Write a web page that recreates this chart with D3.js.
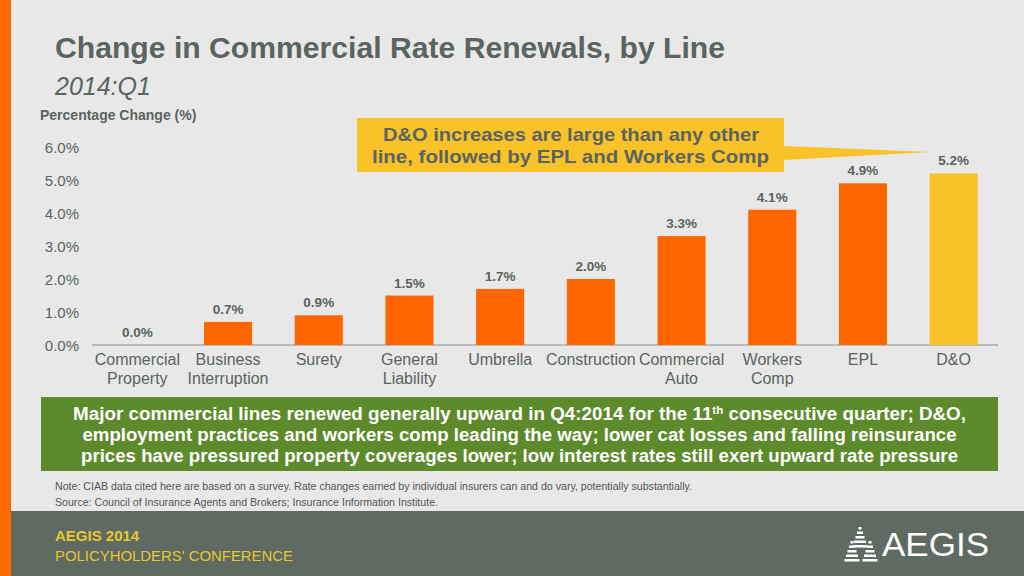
<!DOCTYPE html>
<html><head><meta charset="utf-8">
<script src="https://cdn.jsdelivr.net/npm/d3@7"></script>
<style>
html,body{margin:0;padding:0;background:#e8e8e8;}
svg{display:block;font-family:"Liberation Sans",Arial,sans-serif;}
</style></head>
<body><svg id="c" width="1024" height="576"></svg>
<script>
const categories = [["Commercial","Property"],["Business","Interruption"],["Surety"],["General","Liability"],["Umbrella"],["Construction"],["Commercial","Auto"],["Workers","Comp"],["EPL"],["D&O"]];
const values = [0.0, 0.7, 0.9, 1.5, 1.7, 2.0, 3.3, 4.1, 4.9, 5.2];
const highlight = [false,false,false,false,false,false,false,false,false,true];
const yTicks = [0,1,2,3,4,5,6];
const noteLines = ["Major commercial lines renewed generally upward in Q4:2014 for the 11|th|  consecutive quarter; D&O,",
 "employment practices and workers comp leading the way; lower cat losses and falling reinsurance",
 "prices have pressured property coverages lower; low interest rates still exert upward rate pressure"];
const noteWidths = [893, 874, 877];

const svg = d3.select("#c");
const textCol = "#5a6460";
svg.append("rect").attr("width",1024).attr("height",576).attr("fill","#e8e8e8");
svg.append("rect").attr("x",0).attr("y",0).attr("width",11).attr("height",576).attr("fill","#ff6a00");

svg.append("text").attr("x",55).attr("y",58).attr("font-size",29).attr("font-weight","bold").attr("fill",textCol)
  .attr("textLength",670).attr("lengthAdjust","spacingAndGlyphs").text("Change in Commercial Rate Renewals, by Line");
svg.append("text").attr("x",55).attr("y",95).attr("font-size",25).attr("font-style","italic").attr("fill",textCol).text("2014:Q1");
svg.append("text").attr("x",40).attr("y",120).attr("font-size",14).attr("font-weight","bold").attr("fill",textCol).text("Percentage Change (%)");

const x = d3.scaleBand().domain(d3.range(categories.length)).range([92,999]).paddingInner(0.47).paddingOuter(0.235);
const y = d3.scaleLinear().domain([0,6]).range([345,147]);

const yAxis = svg.append("g").attr("transform","translate(79,0)")
  .call(d3.axisLeft(y).tickValues(yTicks).tickFormat(d=>d.toFixed(1)+"%").tickSize(0).tickPadding(0));
yAxis.select(".domain").remove();
yAxis.selectAll("text").attr("font-size",15).attr("fill",textCol).attr("font-family","Liberation Sans, Arial, sans-serif").attr("dy","0.35em");

svg.append("line").attr("x1",92).attr("x2",998).attr("y1",y(0)).attr("y2",y(0)).attr("stroke","#8a8f8c").attr("stroke-width",1);

svg.selectAll("rect.bar").data(values).join("rect").attr("class","bar")
  .attr("x",(d,i)=>x(i)).attr("width",x.bandwidth())
  .attr("y",d=>y(d)).attr("height",d=>y(0)-y(d))
  .attr("fill",(d,i)=>highlight[i]?"#f9c228":"#ff6600");

svg.selectAll("text.val").data(values).join("text").attr("class","val")
  .attr("x",(d,i)=>x(i)+x.bandwidth()/2).attr("y",d=>y(d)-8)
  .attr("text-anchor","middle").attr("font-size",13.5).attr("font-weight","bold").attr("fill",textCol)
  .text(d=>d.toFixed(1)+"%");

const cat = svg.selectAll("text.cat").data(categories).join("text").attr("class","cat")
  .attr("x",(d,i)=>x(i)+x.bandwidth()/2).attr("y",365)
  .attr("text-anchor","middle").attr("font-size",16).attr("fill",textCol);
cat.each(function(d,i){
  const t=d3.select(this);
  d.forEach((l,j)=>t.append("tspan").attr("x",x(i)+x.bandwidth()/2).attr("dy",j===0?0:19).text(l));
});

// callout
svg.append("path").attr("d","M357,118 L784,118 L784,146 L930,152 L784,160 L784,172 L357,172 Z").attr("fill","#f9c228");
svg.append("text").attr("x",383).attr("y",141).attr("font-size",19).attr("font-weight","bold").attr("fill",textCol)
  .attr("textLength",376).attr("lengthAdjust","spacingAndGlyphs").text("D&O increases are large than any other");
svg.append("text").attr("x",372).attr("y",163).attr("font-size",19).attr("font-weight","bold").attr("fill",textCol)
  .attr("textLength",397).attr("lengthAdjust","spacingAndGlyphs").text("line, followed by EPL and Workers Comp");

// green box
svg.append("rect").attr("x",41).attr("y",397).attr("width",957).attr("height",74).attr("fill","#5d8a2b");
noteLines.forEach((l,i)=>{
  const t = svg.append("text").attr("x",519.5).attr("y",420+i*21).attr("text-anchor","middle").attr("font-size",18).attr("font-weight","bold").attr("fill","#ffffff")
    .attr("textLength",noteWidths[i]).attr("lengthAdjust","spacingAndGlyphs");
  const parts = l.split("|");
  parts.forEach((p,k)=>{
    if(k===1) t.append("tspan").attr("font-size",11).attr("dy",-6).text(p);
    else if(k===2) t.append("tspan").attr("dy",6).text(p);
    else t.append("tspan").text(p);
  });
});

svg.append("text").attr("x",55).attr("y",490).attr("font-size",10.5).attr("fill","#555")
  .attr("textLength",637).attr("lengthAdjust","spacingAndGlyphs").text("Note: CIAB data cited here are based on a survey. Rate changes earned by individual insurers can and do vary, potentially substantially.");
svg.append("text").attr("x",55).attr("y",506).attr("font-size",10.5).attr("fill","#555")
  .attr("textLength",383).attr("lengthAdjust","spacingAndGlyphs").text("Source: Council of Insurance Agents and Brokers; Insurance Information Institute.");

// footer
svg.append("rect").attr("x",11).attr("y",511).attr("width",1013).attr("height",65).attr("fill","#5e6a62");
svg.append("text").attr("x",55).attr("y",541).attr("font-size",15).attr("font-weight","bold").attr("fill","#e5c82e").text("AEGIS 2014");
svg.append("text").attr("x",55).attr("y",561).attr("font-size",15).attr("fill","#e5c82e")
  .attr("textLength",238).attr("lengthAdjust","spacingAndGlyphs").text("POLICYHOLDERS' CONFERENCE");
svg.append("text").attr("x",882).attr("y",556).attr("font-size",34).attr("fill","#ffffff")
  .attr("textLength",107).attr("lengthAdjust","spacingAndGlyphs").text("AEGIS");
// logo icon
const logo = svg.append("g").attr("fill","#ffffff");
[[860,527,22],[852,541,20],[870,541,20]].forEach(([cx,ty,h])=>{
  for(let k=0;k<5;k++){
    const yy = ty+k*4.5, w = 3+k*3;
    logo.append("rect").attr("x",cx-w/2).attr("y",yy).attr("width",w).attr("height",2.5);
  }
});
</script></body></html>
